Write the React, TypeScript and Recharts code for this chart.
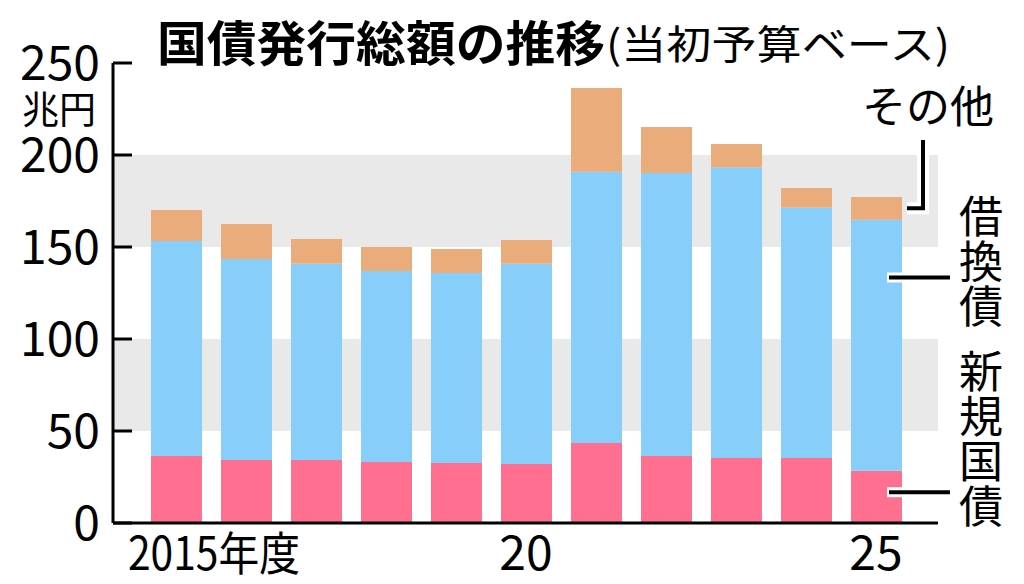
import {
  BarChart,
  Bar,
  XAxis,
  YAxis,
  CartesianGrid,
  LabelList,
} from "recharts";

const years = ["2015", "2016", "2017", "2018", "2019", "2020", "2021", "2022", "2023", "2024", "2025"];
// 新規国債
const newBonds = [36.4, 34.2, 34.2, 33.2, 32.6, 32.1, 43.5, 36.4, 35.3, 35.3, 28.4];
// 借換債
const refunding = [116.9, 109.3, 106.7, 103.8, 103.3, 108.8, 147.4, 153.8, 158.0, 136.1, 136.4];
// その他
const others = [16.8, 19.0, 13.4, 13.0, 13.0, 12.9, 45.5, 25.0, 12.7, 10.7, 12.4];

const yTicks = [0, 50, 100, 150, 200, 250];
const xTickLabels: Record<string, string> = { "2015": "2015年度", "2020": "20", "2025": "25" };

const data = years.map((y, i) => ({
  year: y,
  newBonds: newBonds[i],
  refunding: refunding[i],
  others: others[i],
}));

const FONT = "'Noto Sans CJK JP', 'Noto Sans', sans-serif";
const last = years.length - 1;

const YTick = (props: any) => {
  const { x, y, payload } = props;
  return (
    <g>
      <line x1={x} x2={x + 19} y1={y} y2={y} stroke="#000" strokeWidth={3} />
      <text x={x - 13} y={y + 17} textAnchor="end" fontSize={48} fontFamily={FONT} fill="#000">
        {payload.value}
      </text>
    </g>
  );
};

const XTick = (props: any) => {
  const { x, y, payload } = props;
  const label = xTickLabels[payload.value];
  if (!label) return null;
  if (label.length > 2) {
    return (
      <text x={x - 48} y={y + 47} fontSize={46} fontFamily={FONT} fill="#000" textLength={172} lengthAdjust="spacingAndGlyphs">
        {label}
      </text>
    );
  }
  return (
    <text x={x} y={y + 47} textAnchor="middle" fontSize={48} fontFamily={FONT} fill="#000">
      {label}
    </text>
  );
};

const box = (props: any) => {
  const vb = props.viewBox || props;
  return { x: Number(vb.x), y: Number(vb.y), w: Number(vb.width), h: Number(vb.height) };
};

// leader line into the bar of the last year
const innerLeader = (ratio: number) => (props: any) => {
  if (props.index !== last) return null;
  const { x, y, w, h } = box(props);
  const ly = y + h * ratio;
  return (
    <g>
      <line x1={x + 36} x2={x + w + 2} y1={ly} y2={ly} stroke="#fff" strokeWidth={10} />
      <line x1={x + 38} x2={x + 99} y1={ly} y2={ly} stroke="#000" strokeWidth={4} />
    </g>
  );
};

const topLeader = (props: any) => {
  if (props.index !== last) return null;
  const { x, y, w, h } = box(props);
  const ly = y + h / 2;
  const vx = x + w + 21;
  const path = `M${x + w + 5},${ly} L${vx},${ly} L${vx},${y - 57}`;
  return (
    <g>
      <path d={path} fill="none" stroke="#fff" strokeWidth={12} />
      <path d={path} fill="none" stroke="#000" strokeWidth={4} />
    </g>
  );
};

const vText = (chars: string, baselines: number[]) =>
  chars.split("").map((c, i) => (
    <text key={c + i} x={981} y={baselines[i]} textAnchor="middle" fontSize={44} fontFamily={FONT} fill="#000">
      {c}
    </text>
  ));

export default function App() {
  return (
    <div style={{ position: "absolute", left: 0, top: 0, width: 1024, height: 584, background: "#fff" }}>
      <BarChart
        width={1024}
        height={584}
        data={data}
        margin={{ top: 63, right: 86, bottom: 0, left: 0 }}
        barSize={51}
      >
        {/* gray bands 50-100 and 150-200 */}
        <CartesianGrid
          vertical={false}
          stroke="transparent"
          horizontalFill={["#ffffff", "#e9e9e9"]}
          fillOpacity={1}
        />
        <XAxis
          dataKey="year"
          interval={0}
          padding={{ left: 28, right: 27 }}
          height={61}
          tickLine={false}
          tickSize={0}
          tickMargin={0}
          axisLine={{ stroke: "#000", strokeWidth: 3 }}
          tick={<XTick />}
        />
        <YAxis
          domain={[0, 250]}
          ticks={yTicks}
          width={113}
          tickLine={false}
          tickSize={0}
          tickMargin={0}
          axisLine={{ stroke: "#000", strokeWidth: 3 }}
          tick={<YTick />}
        />
        <Bar dataKey="newBonds" stackId="a" fill="#ff7090" isAnimationActive={false}>
          <LabelList dataKey="newBonds" content={innerLeader(0.41)} />
        </Bar>
        <Bar dataKey="refunding" stackId="a" fill="#87cefa" isAnimationActive={false}>
          <LabelList dataKey="refunding" content={innerLeader(0.23)} />
        </Bar>
        <Bar dataKey="others" stackId="a" fill="#eaac7a" isAnimationActive={false}>
          <LabelList dataKey="others" content={topLeader} />
        </Bar>
      </BarChart>

      <svg width={1024} height={584} style={{ position: "absolute", left: 0, top: 0, pointerEvents: "none" }}>
        <text x={157} y={61} fontSize={48} fontWeight="bold" fontFamily={FONT} fill="#000" textLength={448} lengthAdjust="spacingAndGlyphs">
          国債発行総額の推移
        </text>
        <text x={606} y={59} fontSize={40} fontFamily={FONT} fill="#000" textLength={344} lengthAdjust="spacingAndGlyphs">
          (当初予算ベース)
        </text>
        <text x={22} y={123} fontSize={38} fontFamily={FONT} fill="#000" textLength={74} lengthAdjust="spacingAndGlyphs">
          兆円
        </text>
        <text x={862} y={123} fontSize={44} fontFamily={FONT} fill="#000" textLength={132} lengthAdjust="spacingAndGlyphs">
          その他
        </text>
        {vText("借換債", [233, 278, 323])}
        {vText("新規国債", [388, 433, 478, 523])}
      </svg>
    </div>
  );
}
